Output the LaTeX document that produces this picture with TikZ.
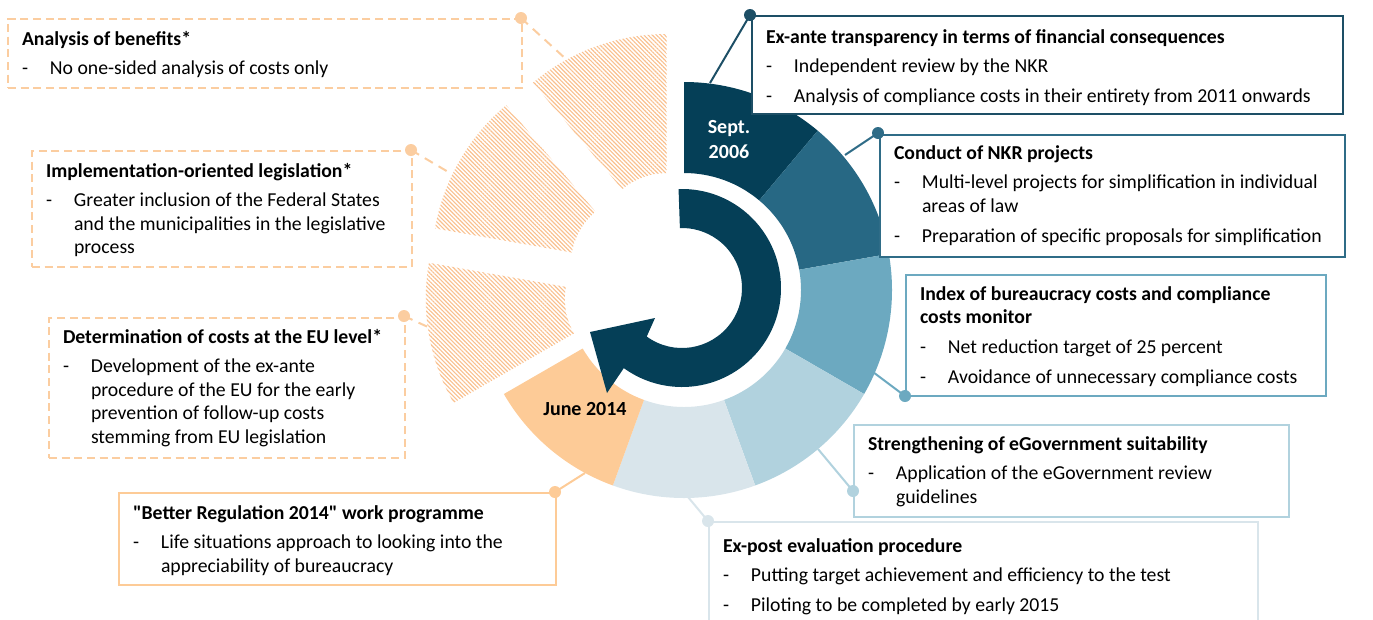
\documentclass[tikz,border=0pt]{standalone}
\usepackage{fontspec}
\setmainfont{Carlito}
\usetikzlibrary{calc,patterns.meta}
\definecolor{sept}{HTML}{053F57}
\definecolor{seg2}{HTML}{276884}
\definecolor{seg3}{HTML}{6CA9C0}
\definecolor{seg4}{HTML}{B1D2DE}
\definecolor{seg5}{HTML}{D9E5EB}
\definecolor{peach}{HTML}{FDCB97}
\definecolor{hatch}{HTML}{F9C08E}
\definecolor{orbox}{HTML}{FBCDA0}
\definecolor{bexante}{HTML}{1D4F66}
\definecolor{bconduct}{HTML}{2F6C87}
\newlength\pxu \setlength\pxu{0.75pt}
\newcommand\bitem[1]{\hangindent=28\pxu\hangafter=1\noindent\makebox[28\pxu][l]{-}#1\par}
\newcommand\boxtxt[4]{\parbox[t][#2\pxu][t]{#1\pxu}{\raggedright\leftskip=14\pxu\parindent=0pt\setlength\parskip{6.5\pxu}\rule{0pt}{#3\pxu}#4}}
\newcommand\ringseg[5]{\fill[#1] ($(C)+(#2:#4)$) arc[start angle=#2, end angle=#3, radius=#4] -- ($(C)+(#3:#5)$) arc[start angle=#3, end angle=#2, radius=#5] -- cycle;}
\newcommand\hatchseg[3]{\fill[pattern={Lines[angle=-45,distance=2.2pt,line width=0.85pt]}, pattern color=hatch] ($(C)+(#3:51)+(#1:69)$) arc[start angle=#1, end angle=#2, radius=69] -- ($(C)+(#3:51)+(#2:208)$) arc[start angle=#2, end angle=#1, radius=208] -- cycle;}
\tikzset{
  txtfont/.style={font=\fontsize{14.8}{17.6}\selectfont, text=black},
  bx/.style={draw=#1, line width=1.5pt, inner sep=0pt, anchor=north west, fill=white, txtfont},
  dbx/.style={draw=orbox, dash pattern=on 6pt off 3.5pt, line width=1.5pt, inner sep=0pt, anchor=north west, fill=white, txtfont},
  dot/.style={circle, fill=#1, inner sep=0pt, minimum size=9pt},
  con/.style={draw=#1, line width=1.5pt},
  dcon/.style={draw=orbox, line width=1.5pt, dash pattern=on 7pt off 5pt},
}
\begin{document}
\begin{tikzpicture}[x=0.75pt,y=-0.75pt]
\useasboundingbox (0,0) rectangle (1373,619);
\clip (0,0) rectangle (1373,619);
\coordinate (C) at (684,290);
\coordinate (A) at (682,288);
% hatched (exploded) segments
\hatchseg{-130}{-90}{-110}
\hatchseg{-170}{-130}{-150}
\hatchseg{150}{190}{170}
% ring segments
\ringseg{sept}{-90}{-50}{117}{208}
\ringseg{seg2}{-50}{-10}{117}{208}
\ringseg{seg3}{-10}{30}{117}{208}
\ringseg{seg4}{30}{70}{117}{208}
\ringseg{seg5}{70}{110}{117}{208}
\ringseg{peach}{110}{150}{117}{208}
% circular arrow
\fill[sept] ($(A)+(-92:99)$) arc[start angle=-92, end angle=126, radius=99]
  -- (607,393) -- (590,332) -- (655,318)
  -- ($(A)+(126:60)$) arc[start angle=126, end angle=-92, radius=60] -- cycle;
\node[font=\fontsize{15}{18.75}\selectfont\bfseries, text=white, align=center] (sept) at (729,140) {Sept.\\2006};
\node[font=\fontsize{15}{18.75}\selectfont\bfseries, text=black] (june) at (585,409) {June 2014};
% connector end points on the segments
\coordinate (p1) at (567,60);
\coordinate (p2) at (450,173);
\coordinate (p3) at (428,327);
\coordinate (p4) at (585,473);
\coordinate (p5) at (710,83);
\coordinate (p6) at (845,155);
\coordinate (p7) at (873,372);
\coordinate (p8) at (818,449);
\coordinate (p9) at (688,497);
% boxes
\node[dbx] (b1) at (7,18) {\boxtxt{514}{69}{26}{\textbf{Analysis of benefits*}\par
  \bitem{No one-sided analysis of costs only}}};
\node[dbx] (b2) at (31,150) {\boxtxt{380}{116}{26}{\textbf{Implementation-oriented legislation*}\par
  \bitem{Greater inclusion of the Federal States\newline and the municipalities in the legislative\newline process}}};
\node[dbx] (b3) at (48,317) {\boxtxt{356}{140}{25}{\textbf{Determination of costs at the EU level*}\par
  \bitem{Development of the ex-ante\newline procedure of the EU for the early\newline prevention of follow-up costs\newline stemming from EU legislation}}};
\node[bx=peach] (b4) at (118,492) {\boxtxt{437}{92}{26}{\textbf{\textquotedbl Better Regulation 2014\textquotedbl{} work programme}\par
  \bitem{Life situations approach to looking into the\newline appreciability of bureaucracy}}};
\node[bx=bexante] (b5) at (751,15) {\boxtxt{591}{98}{27}{\textbf{Ex-ante transparency in terms of financial consequences}\par
  \bitem{Independent review by the NKR}
  \bitem{Analysis of compliance costs in their entirety from 2011 onwards}}};
\node[bx=bconduct] (b6) at (879,134) {\boxtxt{465}{122}{24}{\textbf{Conduct of NKR projects}\par
  \bitem{Multi-level projects for simplification in individual\newline areas of law}
  \bitem{Preparation of specific proposals for simplification}}};
\node[bx=seg3] (b7) at (905,274) {\boxtxt{420}{121}{25}{\textbf{Index of bureaucracy costs and compliance\newline costs monitor}\par
  \bitem{Net reduction target of 25 percent}
  \bitem{Avoidance of unnecessary compliance costs}}};
\node[bx=seg4] (b8) at (853,424) {\boxtxt{435}{92}{25}{\textbf{Strengthening of eGovernment suitability}\par
  \bitem{Application of the eGovernment review\newline guidelines}}};
\node[bx=seg5] (b9) at (708,521) {\boxtxt{549}{130}{30}{\textbf{Ex-post evaluation procedure}\par
  \bitem{Putting target achievement and efficiency to the test}
  \bitem{Piloting to be completed by early 2015}}};
% dots
\node[dot=orbox] (d1) at (521,18) {};
\node[dot=orbox] (d2) at (411,150) {};
\node[dot=orbox] (d3) at (404,316) {};
\node[dot=peach] (d4) at (555,492) {};
\node[dot=bexante] (d5) at (750,15) {};
\node[dot=bconduct] (d6) at (878,133) {};
\node[dot=seg3] (d7) at (905,396) {};
\node[dot=seg4] (d8) at (853,491) {};
\node[dot=seg5] (d9) at (708,521) {};
% connectors
\draw[dcon] (d1.center) -- (p1);
\draw[dcon] (d2.center) -- (p2);
\draw[dcon] (d3.center) -- (p3);
\draw[con=peach] (d4.center) -- (p4);
\draw[con=bexante] (d5.center) -- (p5);
\draw[con=bconduct] (d6.center) -- (p6);
\draw[con=seg3] (d7.center) -- (p7);
\draw[con=seg4] (d8.center) -- (p8);
\draw[con=seg5] (d9.center) -- (p9);
\end{tikzpicture}
\end{document}
